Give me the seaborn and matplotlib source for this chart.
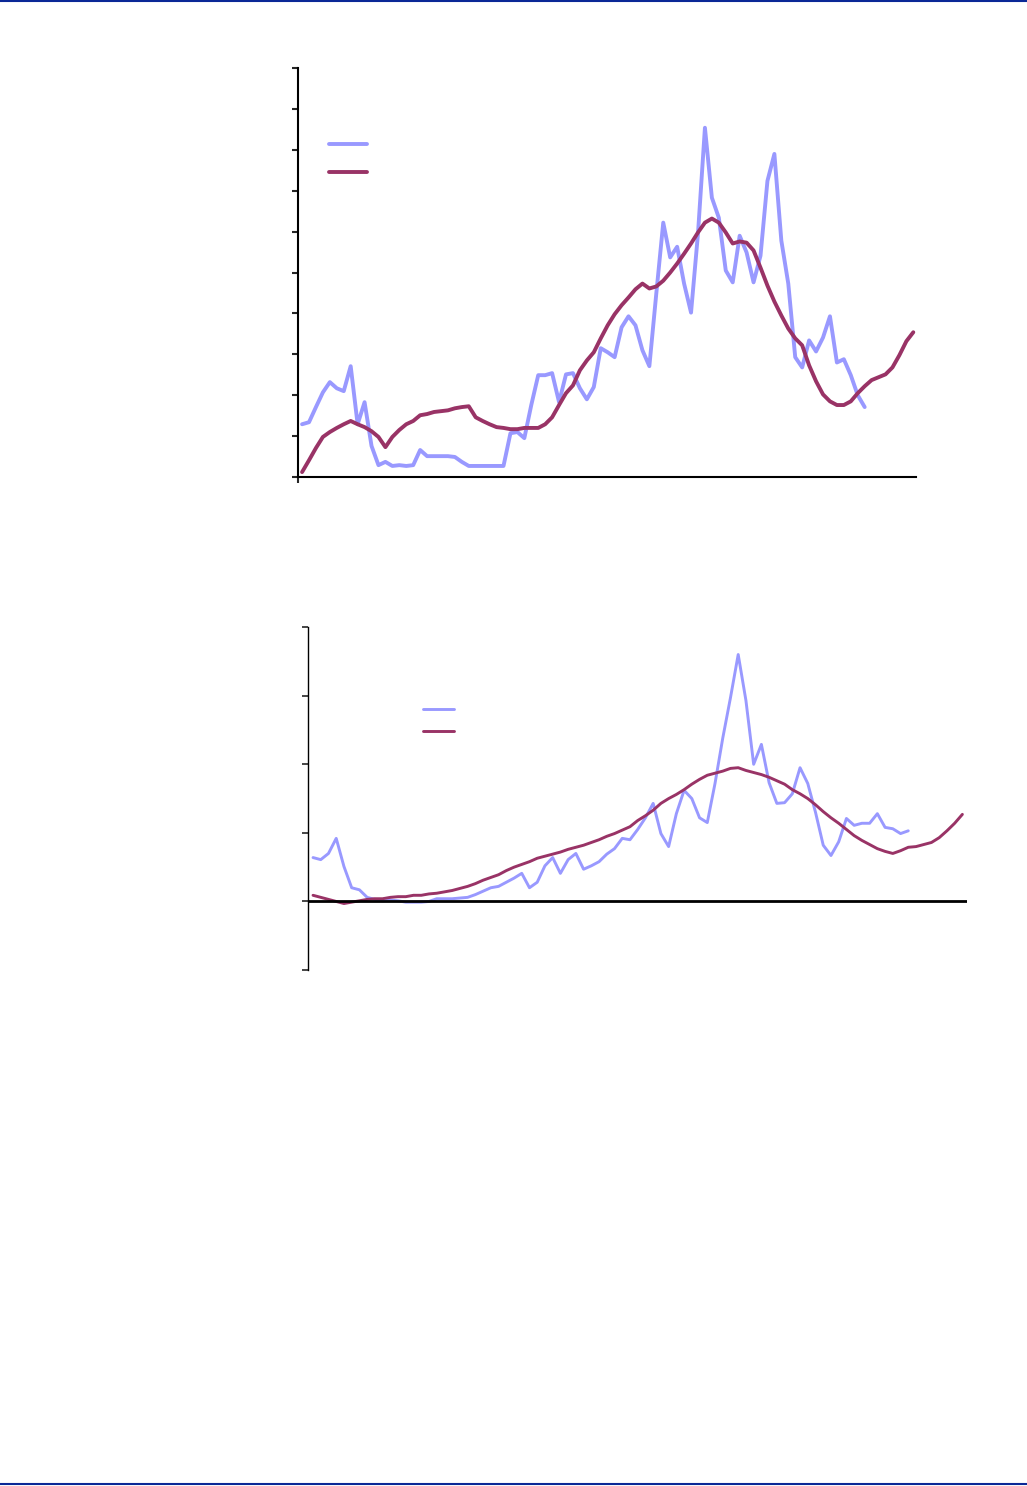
import numpy as np
import seaborn as sns
import matplotlib.pyplot as plt
from matplotlib.lines import Line2D

# upper chart: actual series and smoothed trend
top_actual = [1.29, 1.34, 1.71, 2.07, 2.32, 2.17, 2.10, 2.71, 1.29, 1.83,
              0.76, 0.29, 0.37, 0.27, 0.29, 0.27, 0.29, 0.66, 0.51, 0.51,
              0.51, 0.51, 0.49, 0.37, 0.27, 0.27, 0.27, 0.27, 0.27, 0.27,
              1.07, 1.10, 0.95, 1.76, 2.49, 2.49, 2.54, 1.83, 2.51, 2.54,
              2.17, 1.90, 2.20, 3.15, 3.05, 2.93, 3.66, 3.93, 3.71, 3.10,
              2.71, 4.49, 6.22, 5.37, 5.63, 4.73, 4.02, 5.95, 8.54, 6.83,
              6.34, 5.05, 4.76, 5.90, 5.49, 4.76, 5.41, 7.24, 7.90, 5.78,
              4.73, 2.93, 2.68, 3.34, 3.07, 3.41, 3.93, 2.80, 2.88, 2.49,
              2.00, 1.71]
top_trend = [0.12, 0.41, 0.71, 0.98, 1.10, 1.20, 1.29, 1.37, 1.29, 1.22,
             1.12, 0.98, 0.73, 0.98, 1.15, 1.29, 1.37, 1.51, 1.54, 1.59,
             1.61, 1.63, 1.68, 1.71, 1.73, 1.46, 1.37, 1.29, 1.22, 1.20,
             1.17, 1.17, 1.20, 1.20, 1.20, 1.29, 1.46, 1.76, 2.05, 2.24,
             2.61, 2.85, 3.05, 3.39, 3.71, 3.98, 4.20, 4.39, 4.59, 4.73,
             4.61, 4.66, 4.80, 5.00, 5.22, 5.46, 5.71, 5.98, 6.22, 6.32,
             6.22, 5.98, 5.71, 5.76, 5.73, 5.54, 5.12, 4.68, 4.29, 3.95,
             3.63, 3.39, 3.22, 2.73, 2.34, 2.02, 1.85, 1.76, 1.76, 1.85,
             2.05, 2.22, 2.37, 2.44, 2.51, 2.68, 2.98, 3.32, 3.54]

# lower chart
bottom_actual = [0.64, 0.61, 0.70, 0.92, 0.51, 0.20, 0.17, 0.06, 0.03, 0.01,
                 0.02, 0.01, -0.01, -0.01, -0.01, 0.00, 0.04, 0.04, 0.04, 0.05,
                 0.06, 0.10, 0.15, 0.20, 0.22, 0.28, 0.34, 0.41, 0.20, 0.28,
                 0.52, 0.64, 0.41, 0.61, 0.70, 0.47, 0.52, 0.58, 0.69, 0.77,
                 0.92, 0.90, 1.05, 1.22, 1.43, 0.99, 0.80, 1.28, 1.62, 1.50,
                 1.22, 1.15, 1.72, 2.38, 2.97, 3.60, 2.93, 2.00, 2.29, 1.73,
                 1.43, 1.44, 1.57, 1.95, 1.72, 1.30, 0.82, 0.67, 0.87, 1.21,
                 1.11, 1.14, 1.14, 1.28, 1.08, 1.06, 0.99, 1.03]
bottom_trend = [0.09, 0.06, 0.03, 0.00, -0.03, -0.01, 0.01, 0.03, 0.04, 0.04,
                0.06, 0.07, 0.07, 0.09, 0.09, 0.11, 0.12, 0.14, 0.16, 0.19,
                0.22, 0.26, 0.31, 0.35, 0.39, 0.45, 0.50, 0.54, 0.58, 0.63,
                0.66, 0.69, 0.72, 0.76, 0.79, 0.82, 0.86, 0.90, 0.95, 0.99,
                1.04, 1.09, 1.18, 1.25, 1.33, 1.43, 1.50, 1.56, 1.63, 1.71,
                1.78, 1.84, 1.87, 1.90, 1.94, 1.95, 1.91, 1.88, 1.85, 1.81,
                1.76, 1.71, 1.63, 1.57, 1.50, 1.41, 1.31, 1.22, 1.14, 1.05,
                0.96, 0.89, 0.83, 0.77, 0.73, 0.70, 0.74, 0.79, 0.80, 0.83,
                0.86, 0.93, 1.03, 1.14, 1.27]

BLUE = '#9999FF'
PURPLE = '#993366'
NAVY = '#0a2896'

sns.set_style('white')
fig = plt.figure(figsize=(10.27, 14.86), dpi=100)

# ---- upper chart ----
ax1 = fig.add_axes([0.2902, 0.679, 0.6018, 0.2752])
sns.lineplot(x=np.arange(len(top_actual)), y=top_actual, ax=ax1,
             color=BLUE, linewidth=2.8)
sns.lineplot(x=np.arange(len(top_trend)), y=top_trend, ax=ax1,
             color=PURPLE, linewidth=2.8)
ax1.set_xlim(-0.58, 88.4)
ax1.set_ylim(0, 10)
ax1.set_yticks(range(0, 11))
ax1.set_xticks([-0.58])
ax1.tick_params(axis='y', left=True, direction='out', length=4.5, width=1.5,
                labelleft=False)
ax1.tick_params(axis='x', bottom=True, direction='out', length=4.5, width=1.5,
                labelbottom=False)
for s in ['top', 'right']:
    ax1.spines[s].set_visible(False)
for s in ['left', 'bottom']:
    ax1.spines[s].set_linewidth(1.5)
    ax1.spines[s].set_color('black')
ax1.set_xlabel('')
ax1.set_ylabel('')
ax1.legend(handles=[Line2D([], [], color=BLUE, lw=2.8),
                    Line2D([], [], color=PURPLE, lw=2.8)],
           labels=[' ', ' '], loc='upper left', bbox_to_anchor=(0.05, 0.829),
           frameon=False, fontsize=10, handlelength=2.74, handletextpad=0,
           borderpad=0, borderaxespad=0, labelspacing=0.97)

# ---- lower chart ----
ax2 = fig.add_axes([0.2999, 0.3472, 0.6417, 0.2308])
sns.lineplot(x=np.arange(len(bottom_actual)), y=bottom_actual, ax=ax2,
             color=BLUE, linewidth=2.1)
sns.lineplot(x=np.arange(len(bottom_trend)), y=bottom_trend, ax=ax2,
             color=PURPLE, linewidth=2.1)
ax2.axhline(0, color='black', linewidth=2)
ax2.set_xlim(-0.65, 84.6)
ax2.set_ylim(-1, 4)
ax2.set_yticks(range(-1, 5))
ax2.set_xticks([])
ax2.tick_params(axis='y', left=True, direction='out', length=4, width=1.2,
                labelleft=False)
for s in ['top', 'right', 'bottom']:
    ax2.spines[s].set_visible(False)
ax2.spines['left'].set_linewidth(1.0)
ax2.spines['left'].set_color('black')
ax2.set_xlabel('')
ax2.set_ylabel('')
ax2.legend(handles=[Line2D([], [], color=BLUE, lw=2.1),
                    Line2D([], [], color=PURPLE, lw=2.1)],
           labels=[' ', ' '], loc='upper left', bbox_to_anchor=(0.175, 0.78),
           frameon=False, fontsize=10, handlelength=2.23, handletextpad=0,
           borderpad=0, borderaxespad=0, labelspacing=0.6)

# page rules
fig.add_artist(Line2D([0, 1], [0.9993, 0.9993], transform=fig.transFigure,
                      color=NAVY, linewidth=1.5))
fig.add_artist(Line2D([0, 1], [0.0013, 0.0013], transform=fig.transFigure,
                      color=NAVY, linewidth=1.5))

fig.savefig('out.png', dpi=100)
